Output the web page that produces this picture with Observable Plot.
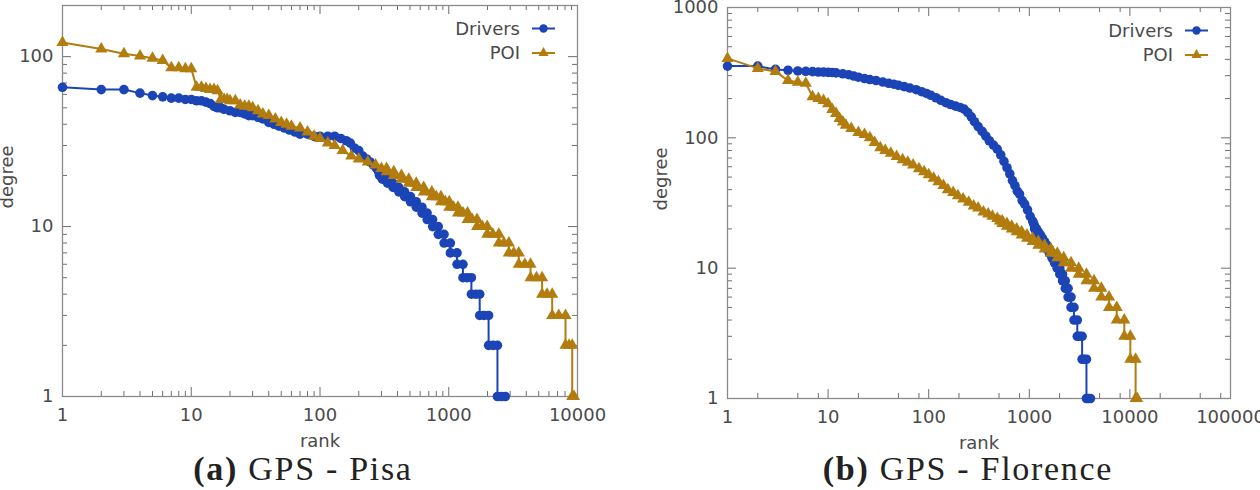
<!DOCTYPE html>
<html>
<head>
<meta charset="utf-8">
<script src="https://cdn.jsdelivr.net/npm/d3@7"></script>
<script src="https://cdn.jsdelivr.net/npm/@observablehq/plot@0.6"></script>
<style>
  html, body { margin: 0; padding: 0; background: #fff; }
  #wrap { position: relative; width: 1260px; height: 490px; overflow: hidden; background: #fff; }
  .panel { position: absolute; top: 0; }
  .cap { position: absolute; top: 452px; text-align: center; font-family: "Liberation Serif", "Times New Roman", serif;
         font-size: 34px; line-height: 34px; letter-spacing: 1.7px; color: #222; white-space: nowrap; }
  .cap b { font-weight: bold; }
</style>
</head>
<body>
<div id="wrap">
  <div class="panel" id="pa" style="left:0px"></div>
  <div class="panel" id="pb" style="left:630px"></div>
  <div class="cap" style="left:0px;width:606px"><b>(a)</b> GPS - Pisa</div>
  <div class="cap" style="left:630px;width:676px"><b>(b)</b> GPS - Florence</div>
</div>
<script>
// ---------------- data: [rank, degree] ----------------
const pisaDrivers = [[1,66],[2,64],[3,64],[4,61],[5,59],[6,58],[7,57],[8,57],[9,56],[10,56],[11,55],[12,55],[13,54],[14,53],[15,51],[16,50],[17,50],[18,49],[20,48],[22,47],[24,47],[26,46],[28,45],[30,45],[33,44],[36,43],[40,41],[44,40],[48,39],[53,38],[58,37],[64,36],[70,35],[80,35],[90,34],[100,34],[115,34],[130,34],[145,33],[160,32],[172,31],[185,29],[200,28],[215,26],[230,25],[245,24],[260,23],[275,22],[285,21],
  [290,20],[304,20],[305,19],[334,19],[335,18],[369,18],[370,17],[409,17],[410,16],[454,16],[455,15],[504,15],[505,14],[559,14],[560,13],[619,13],[620,12],[679,12],[680,11],[749,11],[750,10],[829,10],[830,9],[919,9],[920,8],[1029,8],[1030,7],[1159,7],[1160,6],[1289,6],[1290,5],[1390,5],[1499,5],[1500,4],[1620,4],[1739,4],[1740,3],[1880,3],[2039,3],[2040,2],[2210,2],[2389,2],[2390,1],[2560,1],[2750,1]];

const pisaPOI = [[1,121],[2,111],[3,104],[4,101],[5,98],[6,95],[7,86],[8,86],[9,85],[10,85],[11,66],[12,66],[13,65],[14,64],[15,64],[16,63],[17,56],[18,56],[19,56],[20,55],[22,55],[24,52],[26,51],[28,51],[30,50],[33,48],[36,46],[40,45],[45,43],[50,41],[55,40],[60,39],[70,38],[80,36],[90,34],[100,33],[115,31],[130,30],[150,28],[175,26],[200,25],[235,24],[270,23],[300,22],[329,22],
  [330,21],[374,21],[375,20],[429,20],[430,19],[489,19],[490,18],[559,18],[560,17],[639,17],[640,16],[739,16],[740,15],[800,15],[869,15],[870,14],[940,14],[1009,14],[1010,13],[1090,13],[1179,13],[1180,12],[1290,12],[1399,12],[1400,11],[1520,11],[1659,11],[1660,10],[1820,10],[1989,10],[1990,9],[2200,9],[2449,9],[2450,8],[2680,8],[2929,8],[2930,7],[3200,7],[3499,7],[3500,6],[3900,6],[4319,6],[4320,5],[4800,5],[5309,5],[5310,4],[5800,4],[6359,4],[6360,3],[7150,3],[8069,3],[8070,2],[8600,2],[9099,2],[9100,1],[9400,1]];

const florenceDrivers = [[1,355],[2,355],[3,335],[4,330],[5,326],[6,324],[7,322],[8,320],[9,319],[10,318],[11,317],[12,315],[14,310],[16,305],[18,298],[20,292],[23,285],[26,280],[30,275],[35,268],[40,262],[45,258],[50,253],[57,247],[65,241],[75,234],[85,226],[95,219],[105,212],[118,203],[132,194],[148,186],[165,180],[185,175],[205,171],[225,166],[245,156],[265,145],[285,133],[310,122],[340,112],[370,103],[400,95],[440,88],[480,82],[520,74],[560,66],[600,59],[640,53],[680,47],[720,43],[760,39],[800,37],[850,33],[900,31],[960,28],[1020,25],[1080,23],[1105,22],[1129,21],
  [1130,20],[1179,20],[1180,19],[1229,19],[1230,18],[1289,18],[1290,17],[1349,17],[1350,16],[1419,16],[1420,15],[1499,15],[1500,14],[1589,14],[1590,13],[1679,13],[1680,12],[1779,12],[1780,11],[1889,11],[1890,10],[2009,10],[2010,9],[2139,9],[2140,8],[2279,8],[2280,7],[2429,7],[2430,6],[2599,6],[2600,5],[2779,5],[2780,4],[2999,4],[3000,3],[3170,3],[3349,3],[3350,2],[3520,2],[3699,2],[3700,1],[3870,1],[4050,1]];

const florencePOI = [[1,407],[2,341],[3,323],[4,275],[5,267],[6,262],[7,207],[8,200],[9,193],[10,183],[11,165],[12,154],[13,141],[14,132],[15,125],[17,118],[20,110],[23,106],[26,100],[29,92],[33,84],[37,80],[42,76],[48,72],[55,68],[62,65],[70,62],[80,58],[90,55],[100,52],[112,49],[125,46],[140,43],[155,40],[175,38],[195,36],[220,34],[250,32],[280,30],[310,29],[350,27],[390,26],[430,25],[480,24],[510,23],[539,23],
  [540,22],[599,22],[600,21],[669,21],[670,20],[749,20],[750,19],[839,19],[840,18],[949,18],[950,17],[1079,17],[1080,16],[1229,16],[1230,15],[1419,15],[1420,14],[1639,14],[1640,13],[1899,13],[1900,12],[2199,12],[2200,11],[2599,11],[2600,10],[3099,10],[3100,9],[3699,9],[3700,8],[4399,8],[4400,7],[5199,7],[5200,6],[6199,6],[6200,5],[7399,5],[7400,4],[8799,4],[8800,3],[10099,3],[10100,2],[11399,2],[11400,1],[11800,1]];

const seriesLabels = ["Drivers", "POI"];
const axisTitles = {x: "rank", y: "degree"};

// tick values
const pisaXMajor = [1, 10, 100, 1000, 10000];
const pisaXMinor = [2,3,4,5,6,7,8,9,20,30,40,50,60,70,80,90,200,300,400,500,600,700,800,900,2000,3000,4000,5000,6000,7000,8000,9000];
const pisaYMajor = [1, 10, 100];
const pisaYMinor = [2,3,4,5,6,7,8,9,20,30,40,50,60,70,80,90];
const florXMajor = [1, 10, 100, 1000, 10000, 100000];
const florXMinor = [2,5,8,20,50,80,200,500,800,2000,5000,8000,20000,50000,80000];
const florYMajor = [1, 10, 100, 1000];
const florYMinor = [2,3,4,5,6,7,8,9,20,30,40,50,60,70,80,90,200,300,400,500,600,700,800,900];

// ---------------- styling ----------------
const BLUE = "#1b45b6";
const GOLD = "#b27c0e";
const TICK = "#6e6e6e";
const TEXT = "#4a4a4a";

function legendMark() {
  return (index, scales, values, dimensions) => {
    const {width, marginRight, marginTop} = dimensions;
    const xr = width - marginRight;
    const g = d3.create("svg:g");
    const items = [
      {label: seriesLabels[0], color: BLUE, symbol: d3.symbolCircle, size: Math.PI * 4.2 * 4.2},
      {label: seriesLabels[1], color: GOLD, symbol: d3.symbolTriangle, size: Math.PI * 3.8 * 3.8}
    ];
    items.forEach((it, i) => {
      const y = marginTop + 23.5 + i * 24.5;
      g.append("text").attr("x", xr - 57).attr("y", y).attr("dy", "0.35em")
        .attr("text-anchor", "end").attr("fill", TEXT)
        .attr("font-family", "DejaVu Sans").attr("font-size", 18).text(it.label);
      g.append("line").attr("x1", xr - 45).attr("x2", xr - 22).attr("y1", y).attr("y2", y)
        .attr("stroke", it.color).attr("stroke-width", 2);
      g.append("path").attr("d", d3.symbol(it.symbol, it.size)())
        .attr("transform", `translate(${xr - 33.5},${y})`).attr("fill", it.color);
    });
    return g.node();
  };
}

function panel({drivers, poi, xDomain, yDomain, xMajor, xMinor, yMajor, yMinor,
                marginLeft, marginRight, marginTop, marginBottom, degreeDx}) {
  const W = 630, H = 455;
  const fw = W - marginLeft - marginRight;
  const fh = H - marginTop - marginBottom;
  const maj = 9, mnr = 5;
  const X = d => d[0], Y = d => d[1];
  return Plot.plot({
    width: W, height: H,
    marginLeft, marginRight, marginTop, marginBottom,
    x: {type: "log", domain: xDomain},
    y: {type: "log", domain: yDomain},
    style: {fontFamily: "DejaVu Sans", fontSize: "18px", color: TEXT, background: "transparent", overflow: "visible"},
    marks: [
      // inward ticks on four sides
      Plot.tickX(xMajor, {x: d => d, insetTop: fh - maj, stroke: TICK}),
      Plot.tickX(xMinor, {x: d => d, insetTop: fh - mnr, stroke: TICK}),
      Plot.tickX(xMajor, {x: d => d, insetBottom: fh - maj, stroke: TICK}),
      Plot.tickX(xMinor, {x: d => d, insetBottom: fh - mnr, stroke: TICK}),
      Plot.tickY(yMajor, {y: d => d, insetRight: fw - maj, stroke: TICK}),
      Plot.tickY(yMinor, {y: d => d, insetRight: fw - mnr, stroke: TICK}),
      Plot.tickY(yMajor, {y: d => d, insetLeft: fw - maj, stroke: TICK}),
      Plot.tickY(yMinor, {y: d => d, insetLeft: fw - mnr, stroke: TICK}),
      Plot.frame({stroke: "#8a8a8a", strokeWidth: 1.3}),
      Plot.axisX({ticks: xMajor, tickSize: 0, tickPadding: 12, tickFormat: d => String(d), label: null}),
      Plot.axisY({ticks: yMajor, tickSize: 0, tickPadding: 9, tickFormat: d => String(d), label: null}),
      // series
      Plot.line(drivers, {x: X, y: Y, stroke: BLUE, strokeWidth: 2}),
      Plot.dot(drivers, {x: X, y: Y, r: 4.8, fill: BLUE, symbol: "circle"}),
      Plot.line(poi, {x: X, y: Y, stroke: GOLD, strokeWidth: 2}),
      Plot.dot(poi, {x: X, y: Y, r: 4.5, fill: GOLD, symbol: "triangle"}),
      // axis titles
      Plot.text([axisTitles.x], {text: d => d, frameAnchor: "bottom", textAnchor: "middle", lineAnchor: "bottom", dy: 50, fill: TEXT, fontSize: 18}),
      Plot.text([axisTitles.y], {text: d => d, frameAnchor: "left", textAnchor: "middle", lineAnchor: "middle", rotate: -90, dx: degreeDx, dy: -24, fill: TEXT, fontSize: 18}),
      legendMark()
    ]
  });
}

document.getElementById("pa").appendChild(panel({
  drivers: pisaDrivers, poi: pisaPOI,
  xDomain: [1, 10000], yDomain: [1, 200],
  xMajor: pisaXMajor, xMinor: pisaXMinor, yMajor: pisaYMajor, yMinor: pisaYMinor,
  marginLeft: 62, marginRight: 53, marginTop: 5, marginBottom: 59, degreeDx: -55
}));
document.getElementById("pb").appendChild(panel({
  drivers: florenceDrivers, poi: florencePOI,
  xDomain: [1, 100000], yDomain: [1, 1000],
  xMajor: florXMajor, xMinor: florXMinor, yMajor: florYMajor, yMinor: florYMinor,
  marginLeft: 97, marginRight: 30, marginTop: 7, marginBottom: 57, degreeDx: -66
}));
</script>
</body>
</html>
